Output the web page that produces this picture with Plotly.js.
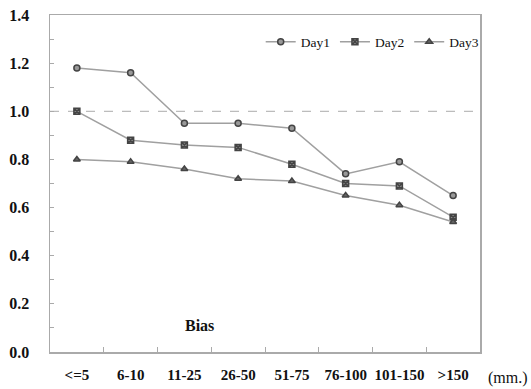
<!DOCTYPE html>
<html>
<head>
<meta charset="utf-8">
<script src="https://cdn.plot.ly/plotly-3.0.1.min.js"></script>
<style>html,body{margin:0;padding:0;background:#fff;}#chart{width:531px;height:389px;}</style>
</head>
<body>
<div id="chart"></div>
<script>
var categories = ["<=5", "6-10", "11-25", "26-50", "51-75", "76-100", "101-150", ">150"];
var day1 = [1.18, 1.16, 0.95, 0.95, 0.93, 0.74, 0.79, 0.65];
var day2 = [1.00, 0.88, 0.86, 0.85, 0.78, 0.70, 0.69, 0.56];
var day3 = [0.80, 0.79, 0.76, 0.72, 0.71, 0.65, 0.61, 0.54];
var seriesNames = ["Day1", "Day2", "Day3"];
var yTicks = [0.0, 0.2, 0.4, 0.6, 0.8, 1.0, 1.2, 1.4];
var yTickText = ["0.0", "0.2", "0.4", "0.6", "0.8", "1.0", "1.2", "1.4"];

var serif = "Liberation Serif";
var lineColor = "#a0a0a0";

function tr(name, ys, symbol, fill) {
  return {
    type: "scatter", mode: "lines+markers", name: name,
    x: categories, y: ys,
    line: {color: lineColor, width: 1.5},
    marker: {symbol: symbol, size: 6, color: fill, line: {color: "#444", width: 1.5}}
  };
}

var data = [
  tr(seriesNames[0], day1, "circle", "#999"),
  tr(seriesNames[1], day2, "square-x", "#888"),
  tr(seriesNames[2], day3, "triangle-up", "#666")
];

var layout = {
  width: 531, height: 389,
  margin: {l: 50, r: 51, t: 15, b: 37},
  paper_bgcolor: "#fff", plot_bgcolor: "#fff",
  showlegend: true,
  legend: {
    orientation: "h", x: 0.49, xanchor: "left", y: 0.92, yanchor: "middle",
    font: {family: serif, size: 13.5, color: "#111"},
    itemgap: 0, bgcolor: "rgba(0,0,0,0)"
  },
  xaxis: {
    type: "category", range: [-0.5, 7.5], tickson: "boundaries",
    ticks: "inside", ticklen: 5, tickcolor: "#aaa",
    showline: true, linecolor: "#aaa", linewidth: 1.5, mirror: true,
    showgrid: false, zeroline: false, tickangle: 0,
    tickfont: {family: serif, size: 15, color: "#111", weight: "bold"},
    ticklabelstandoff: 8
  },
  yaxis: {
    range: [0, 1.4], tickvals: yTicks, ticktext: yTickText,
    ticks: "inside", ticklen: 4, tickcolor: "#aaa",
    minor: {dtick: 0.1, ticks: "inside", ticklen: 4, tickcolor: "#aaa", showgrid: false},
    showline: true, linecolor: "#aaa", linewidth: 1.5, mirror: true,
    showgrid: false, zeroline: false,
    tickfont: {family: serif, size: 16, color: "#111", weight: "bold"},
    ticklabelstandoff: 16
  },
  shapes: [{
    type: "line", xref: "paper", x0: 0, x1: 1, yref: "y", y0: 1.0, y1: 1.0,
    line: {color: "#aaa", width: 1, dash: "dash"}, layer: "below"
  }],
  annotations: [
    {text: "Bias", xref: "paper", yref: "paper", x: (199 - 50) / 430, y: (352 - 325) / 337,
     xanchor: "center", yanchor: "middle",
     showarrow: false, font: {family: serif, size: 16, color: "#111", weight: "bold"}},
    {text: "(mm.)", xref: "paper", yref: "paper", x: (486 - 50) / 430, y: -(378 - 352) / 337,
     xanchor: "left", yanchor: "middle",
     showarrow: false, font: {family: serif, size: 16, color: "#111"}}
  ]
};

Plotly.newPlot("chart", data, layout, {displayModeBar: false, staticPlot: true});
</script>
</body>
</html>
